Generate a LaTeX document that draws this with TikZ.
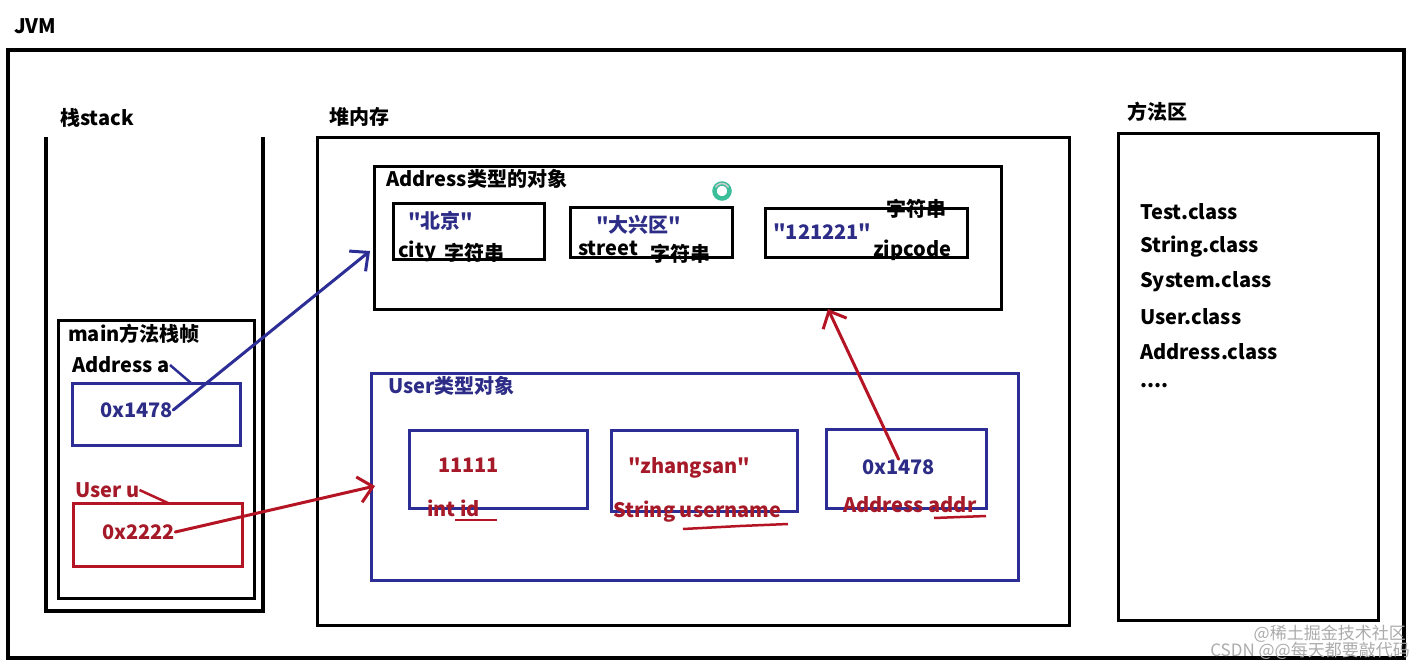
\documentclass[tikz,border=0pt]{standalone}
\usepackage{fontspec}
\setmainfont{Noto Sans CJK SC}
\newfontfamily\mf{Noto Sans CJK SC}
\usetikzlibrary{arrows.meta,calc}
\definecolor{bx}{RGB}{45,45,150}
\definecolor{bt}{RGB}{45,45,135}
\definecolor{rd}{RGB}{180,20,35}
\definecolor{rt}{RGB}{165,25,40}
\definecolor{ringc}{RGB}{60,190,155}
\begin{document}
\begin{tikzpicture}[x=1pt,y=-1pt,
  lbl/.style={font=\mf\fontsize{20}{24}\selectfont\bfseries, inner sep=0pt, anchor=west},
  blk/.style={draw=black, line width=3.5pt, inner sep=0pt, outer sep=0pt, anchor=north west},
  bbox/.style={draw=bx, line width=3pt, inner sep=0pt, outer sep=0pt, anchor=north west},
  rbox/.style={draw=rd, line width=3pt, inner sep=0pt, outer sep=0pt, anchor=north west},
  barrow/.style={draw=bx, line width=3pt, line cap=round, -{Straight Barb[length=14pt,width=26pt]}},
  rarrow/.style={draw=rd, line width=3pt, line cap=round, -{Straight Barb[length=14pt,width=26pt]}},
  wm/.style={font=\mf\fontsize{17}{18}\selectfont, text=gray!65, inner sep=0pt, anchor=east}]
\useasboundingbox (0,0) rectangle (1424,664);
\fill[white] (0,0) rectangle (1424,664);

% JVM
\node[lbl] (jvm) at (14,26) {JVM};
\node[blk, minimum width=1396pt, minimum height=608pt] (jvmbox) at (8,50) {};

% stack
\node[lbl] (stacklbl) at (60,118) {栈stack};
\draw[black, line width=3.5pt, line join=miter] (46,137) -- (46,611) -- (263,611) -- (263,137);
\node[blk, line width=3pt, minimum width=196pt, minimum height=278pt] (frame) at (58,320) {};
\node[lbl] (framelbl) at (68,334) {main方法栈帧};
\node[lbl] (aa) at (72,365) {Address a};
\node[bbox, minimum width=168pt, minimum height=62pt] (va) at (72,383) {};
\node[lbl, text=bt] (vaval) at (100,410) {0x1478};
\coordinate (vatop) at (191,383);
\draw[bx, line width=2.5pt] (aa.east) -- (vatop);
\node[lbl, text=rt] (uu) at (75,490) {User u};
\node[rbox, minimum width=169pt, minimum height=63pt] (vu) at (73,503) {};
\node[lbl, text=rt] (vuval) at (102,532) {0x2222};
\coordinate (vutop) at (168,503);
\draw[rd, line width=2.5pt] (uu.east) -- (vutop);

% heap
\node[lbl] (heaplbl) at (329,117) {堆内存};
\node[blk, line width=3pt, minimum width=752pt, minimum height=488pt] (heap) at (317,137) {};

% Address object
\node[blk, line width=3pt, minimum width=627pt, minimum height=143pt] (addrobj) at (374,166) {};
\node[lbl] (addrlbl) at (386,179) {Address类型的对象};
\node[blk, line width=3pt, minimum width=151pt, minimum height=56pt] (city) at (393,203) {};
\node[lbl, text=bt] (cityval) at (408,221) {"北京"};
\node[lbl] (citylbl) at (398,251) {city};
\node[lbl] (citytype) at (444,253) {字符串};
\node[blk, line width=3pt, minimum width=162pt, minimum height=50pt] (street) at (570,207) {};
\node[lbl, text=bt] (streetval) at (596,225) {"大兴区"};
\node[lbl] (streetlbl) at (578,248) {street};
\node[lbl] (streettype) at (650,254) {字符串};
\node[blk, line width=3pt, minimum width=202pt, minimum height=49pt] (zip) at (765,208) {};
\node[lbl] (ziptype) at (886,209) {字符串};
\node[lbl, text=bt] (zipval) at (773,232) {"121221"};
\node[lbl] (ziplbl) at (873,250) {zipcode};
\draw[ringc, line width=4.5pt] (722,191) circle (7.5pt);
\draw[gray!40, line width=1.5pt] (722,191) ++(150:7.5pt) arc (150:30:7.5pt);

% User object
\node[bbox, minimum width=647pt, minimum height=207pt] (userobj) at (371,373) {};
\node[lbl, text=bt] (userlbl) at (388,386) {User类型对象};
\node[bbox, minimum width=178pt, minimum height=78pt] (idbox) at (409,430) {};
\node[lbl, text=rt] (idval) at (438,465) {11111};
\node[lbl, text=rt] (idlbl) at (427,508) {int id};
\coordinate (idu1) at (455,520);
\coordinate (idu2) at (497,520);
\draw[rd, line width=2.5pt] (idu1) -- (idu2);
\node[bbox, minimum width=186pt, minimum height=81pt] (unbox) at (611,430) {};
\node[lbl, text=rt] (unval) at (628,468) {"zhangsan"};
\node[lbl, text=rt] (unlbl) at (613,512) {String username};
\coordinate (unu1) at (683,529);
\coordinate (unu2) at (740,526);
\coordinate (unu3) at (788,524);
\draw[rd, line width=2.5pt] (unu1) -- (unu2) -- (unu3);
\node[bbox, minimum width=160pt, minimum height=79pt] (adbox) at (826,429) {};
\node[lbl, text=bt] (adval) at (862,467) {0x1478};
\node[lbl, text=rt] (adlbl) at (843,505) {Address addr};
\coordinate (adu1) at (934,518);
\coordinate (adu2) at (986,516);
\draw[rd, line width=2.5pt] (adu1) -- (adu2);

% method area
\node[lbl] (methlbl) at (1127,112) {方法区};
\node[blk, line width=3pt, minimum width=260pt, minimum height=487pt] (meth) at (1118,133) {};
\node[lbl] (c1) at (1140,212) {Test.class};
\node[lbl] (c2) at (1140,247) {String.class};
\node[lbl] (c3) at (1140,282) {System.class};
\node[lbl] (c4) at (1140,317) {User.class};
\node[lbl] (c5) at (1140,352) {Address.class};
\node[lbl] (c6) at (1140,386) {....};

% arrows
\coordinate (addrin) at (370,251);
\coordinate (userin) at (375,486);
\coordinate (addrbot) at (828,309);
\draw[barrow] (vaval.east) -- (addrin);
\draw[rarrow] (vuval.east) -- (userin);
\draw[rarrow] (adval.north) -- (addrbot);

% watermark
\node[wm] (wm1) at (1406,634) {@稀土掘金技术社区};
\node[wm] (wm2) at (1410,651) {CSDN @@每天都要敲代码};
\end{tikzpicture}
\end{document}
